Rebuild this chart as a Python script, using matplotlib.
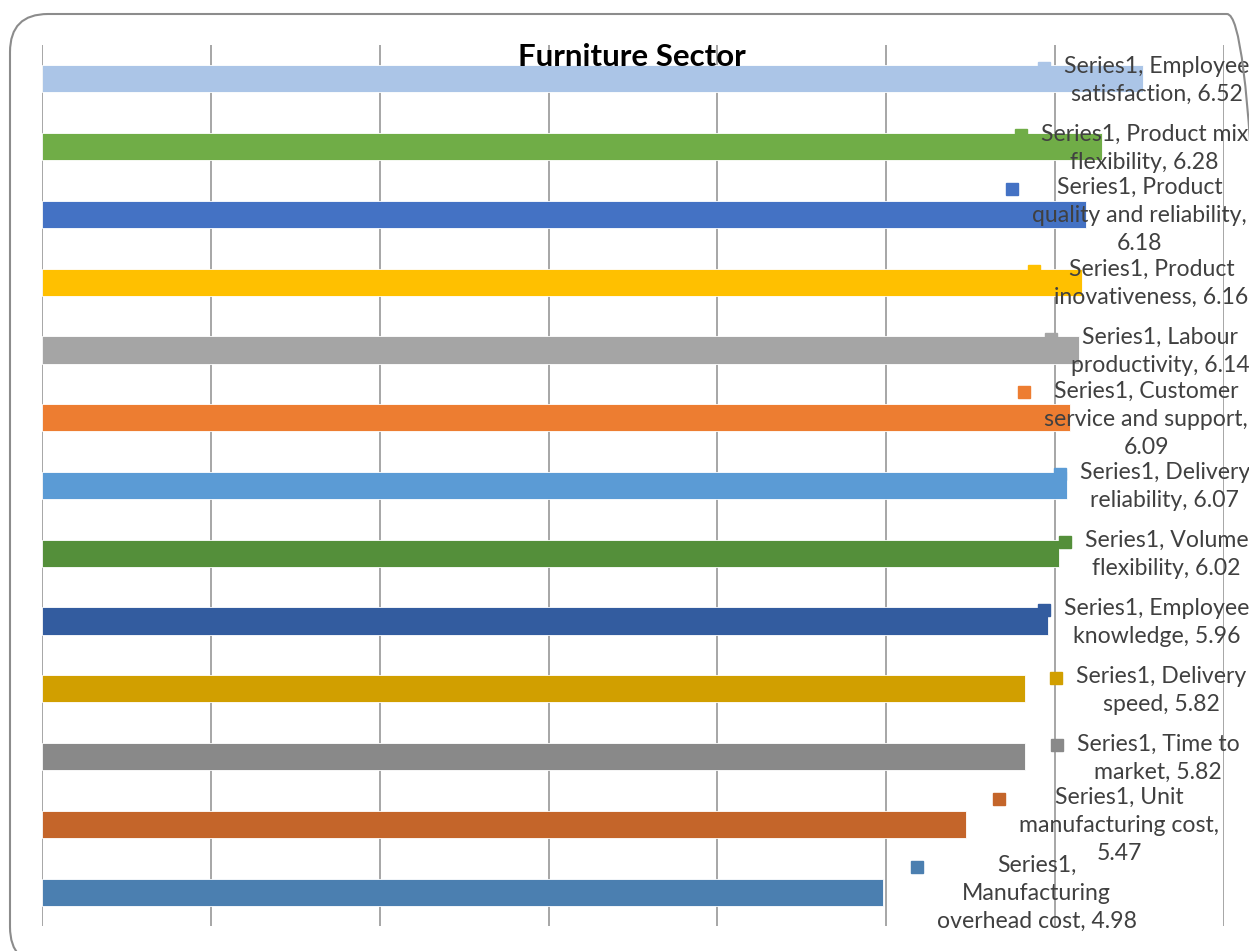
import matplotlib.pyplot as plt
from matplotlib.patches import FancyBboxPatch

# Chart data (top to bottom, as in the reference)
series_name = "Series1"
categories = [
    "Employee satisfaction", "Product mix flexibility", "Product quality and reliability",
    "Product inovativeness", "Labour productivity", "Customer service and support",
    "Delivery reliability", "Volume flexibility", "Employee knowledge",
    "Delivery speed", "Time to market", "Unit manufacturing cost",
    "Manufacturing overhead cost",
]
values = [6.52, 6.28, 6.18, 6.16, 6.14, 6.09, 6.07, 6.02, 5.96, 5.82, 5.82, 5.47, 4.98]

# data label texts, wrapped the way Excel wrapped them
label_text = [
    "Series1, Employee\nsatisfaction, 6.52",
    "Series1, Product mix\nflexibility, 6.28",
    "Series1, Product\nquality and reliability,\n6.18",
    "Series1, Product\ninovativeness, 6.16",
    "Series1, Labour\nproductivity, 6.14",
    "Series1, Customer\nservice and support,\n6.09",
    "Series1, Delivery\nreliability, 6.07",
    "Series1, Volume\nflexibility, 6.02",
    "Series1, Employee\nknowledge, 5.96",
    "Series1, Delivery\nspeed, 5.82",
    "Series1, Time to\nmarket, 5.82",
    "Series1, Unit\nmanufacturing cost,\n5.47",
    "Series1,\nManufacturing\noverhead cost, 4.98",
]

bar_colors = [
    "#ABC5E7", "#70AD47", "#4472C4", "#FFC000", "#A5A5A5", "#ED7D31", "#5B9BD5",
    "#548F3A", "#335C9F", "#D19F00", "#898989", "#C4652A", "#4B7FB0",
]

# where Excel put the centre of each label (axis units)
label_x = [6.60, 6.53, 6.50, 6.57, 6.62, 6.54, 6.65, 6.66, 6.60, 6.63, 6.61, 6.38, 5.89]

W, H = 1249, 951
fig = plt.figure(figsize=(W / 100, H / 100), dpi=100)
ax = fig.add_axes([42 / W, 25 / H, 1182 / W, 881 / H])

pos = list(range(len(categories)))
ax.barh(pos, values, height=0.4, color=bar_colors, edgecolor="white",
        linewidth=0.6, zorder=3)

ax.set_xlim(0, 7)
ax.set_ylim(len(categories) - 0.5, -0.5)
ax.set_xticks(range(8))
ax.set_axisbelow(True)
ax.grid(axis="x", color="#A6A6A6", linewidth=1.4)
ax.tick_params(left=False, bottom=False, labelleft=False, labelbottom=False)
for s in ax.spines.values():
    s.set_visible(False)

# Data labels
texts = []
for i, txt in enumerate(label_text):
    t = ax.text(label_x[i], i + 0.02, txt, ha="center", va="center", multialignment="center",
                fontsize=16.6, family="Lato", color="#404040", linespacing=1.42,
                zorder=5, clip_on=False)
    texts.append(t)

# Legend-key squares in front of each label
fig.canvas.draw()
renderer = fig.canvas.get_renderer()
inv = ax.transData.inverted()
for i, t in enumerate(texts):
    bb = t.get_window_extent(renderer)
    mx, my = inv.transform((bb.x0 - 20, bb.y1 - 12))
    ax.plot(mx, my, marker="s", markersize=8.5, color=bar_colors[i],
            linestyle="none", zorder=6, clip_on=False)

fig.text(632 / W, 1 - 57 / H, "Furniture Sector", ha="center", va="center",
         fontsize=22.5, fontweight="bold", family="Lato", color="#000000", zorder=7)

# Rounded chart-area border (runs off the right and bottom edges)
frame = FancyBboxPatch((0.10, -0.14), 12.55, 9.51,
                       boxstyle="round,pad=0,rounding_size=0.38",
                       transform=fig.dpi_scale_trans, facecolor="none",
                       edgecolor="#8C8C8C", linewidth=1.5)
fig.patches.append(frame)

fig.savefig("out.png", dpi=100)
